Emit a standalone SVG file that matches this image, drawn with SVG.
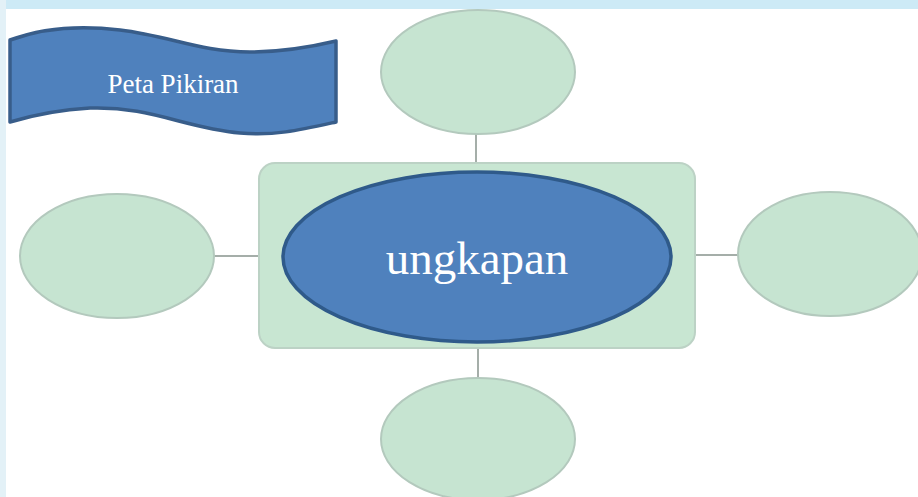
<svg xmlns="http://www.w3.org/2000/svg" width="918" height="497" viewBox="0 0 918 497">
<style>
.sat{fill:#c6e4d1;stroke:#b3c9bd;stroke-width:2}
.con{stroke:#a5aea9;stroke-width:2;fill:none}
.main{fill:#4f81bd;stroke:#2f5a8a;stroke-width:3.5}
.txt{font-family:"Liberation Serif","Times New Roman",serif;fill:#ffffff;text-anchor:middle}
</style>
<rect x="0" y="0" width="918" height="497" fill="#ffffff"/>
<rect x="0" y="0" width="918" height="9" fill="#cdeaf6"/>
<rect x="0" y="0" width="6" height="497" fill="#e3f1f7"/>
<g id="connectors">
<line class="con" x1="476" y1="133" x2="476" y2="164"/>
<line class="con" x1="478" y1="347" x2="478" y2="379"/>
<line class="con" x1="214" y1="256" x2="260" y2="256"/>
<line class="con" x1="694" y1="255" x2="739" y2="255"/>
</g>
<g id="frame">
<rect x="259" y="163" width="436" height="185" rx="16" fill="#c8e6d2" stroke="#bcd2c5" stroke-width="2"/>
</g>
<g id="node-top"><ellipse class="sat" cx="478" cy="72" rx="97" ry="62"/></g>
<g id="node-bottom"><ellipse class="sat" cx="478" cy="439" rx="97" ry="61"/></g>
<g id="node-left"><ellipse class="sat" cx="117" cy="256" rx="97" ry="62"/></g>
<g id="node-right"><ellipse class="sat" cx="830" cy="254" rx="92" ry="62"/></g>
<g id="node-center">
<ellipse class="main" cx="477" cy="257" rx="194" ry="85"/>
<text class="txt" x="477" y="274" font-size="47">ungkapan</text>
</g>
<g id="banner">
<path d="M10,40 C45,27 80,25 120,30 C170,36 200,52 250,52 C285,52 315,46 336,41 L336,122 C300,130 275,136 240,133 C185,128 150,106 90,108 C55,110 30,116 10,122 Z" fill="#4f81bd" stroke="#385d8a" stroke-width="3.5" stroke-linejoin="round"/>
<text class="txt" x="173" y="93" font-size="27">Peta Pikiran</text>
</g>
</svg>
